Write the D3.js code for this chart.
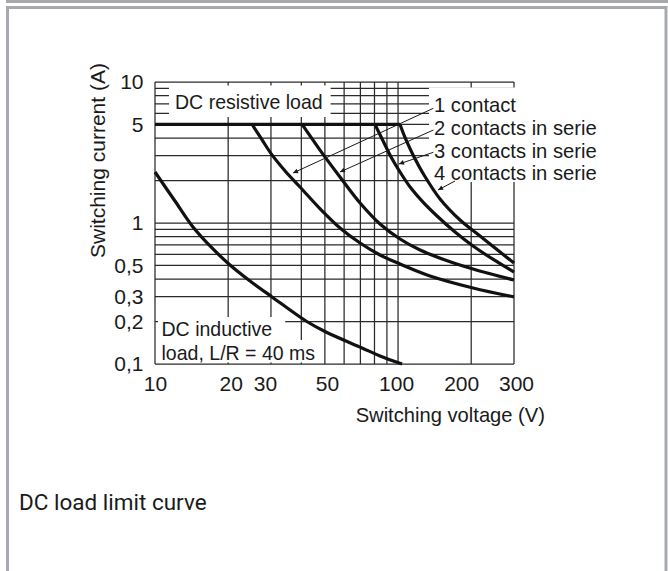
<!DOCTYPE html>
<html><head><meta charset="utf-8">
<script src="https://cdn.jsdelivr.net/npm/d3@7"></script>
<style>
html,body{margin:0;padding:0;background:#fff;}
svg{display:block;}
text{font-family:"Liberation Sans",Arial,sans-serif;fill:#1a1a1a;}
text.cap{font-family:Roboto,"Liberation Sans",sans-serif;}
</style></head><body>
<svg id="c" width="668" height="571"></svg>
<script>
// ---- data ----
const xTicks = [10, 20, 30, 50, 100, 200, 300];
const yTicks = [10, 5, 1, 0.5, 0.3, 0.2, 0.1];
const xGridValues = [10, 20, 30, 40, 50, 60, 70, 80, 90, 100, 200, 300];
const yGridValues = [10, 9, 8, 7, 6, 5, 4, 3, 2, 1, 0.9, 0.8, 0.7, 0.6, 0.5, 0.4, 0.3, 0.2, 0.1];
const resistiveLimit = [[10, 5], [101.9, 5]];
const oneContact = [[25.1,5],[27.6,3.88],[30.3,3.04],[34.3,2.34],[39.5,1.80],[47.8,1.26],[57.7,0.922],[69.8,0.721],[84.3,0.593],[101.9,0.512],[135.4,0.421],[203.5,0.346],[300,0.299]];
const twoContacts = [[40.3,5],[47.75,3.29],[57.7,2.12],[69.8,1.386],[84.3,0.984],[101.9,0.770],[123.2,0.643],[156.1,0.547],[203.5,0.472],[300,0.394]];
const threeContacts = [[80.4,5],[86.8,3.82],[93.6,2.94],[101.9,2.30],[112.1,1.80],[125.6,1.43],[144.7,1.121],[171.6,0.863],[203.5,0.687],[248.4,0.547],[300,0.449]];
const fourContacts = [[101.9,5],[107.9,3.88],[116.4,2.94],[127.9,2.19],[148.9,1.48],[179.9,1.05],[217.5,0.809],[262.9,0.623],[300,0.520]];
const inductive = [[10,2.3],[12.08,1.432],[14.33,0.937],[17.16,0.665],[20.35,0.504],[24.6,0.388],[30.3,0.299],[41.8,0.2018],[50.5,0.1686],[71.1,0.130],[84.3,0.114],[103.9,0.1]];
const seriesLabels = ["1 contact", "2 contacts in serie", "3 contacts in serie", "4 contacts in serie"];
const leaders = [
  {from: [139.7, 6.51], to: [36.98, 2.263]},
  {from: [139.7, 4.566], to: [57.7, 2.30]},
  {from: [139.7, 3.172], to: [100.9, 2.62]},
  {from: [171.6, 1.986], to: [146.1, 1.714]}
];
const resistiveText = "DC resistive load";
const inductiveText = ["DC inductive", "load, L/R = 40 ms"];
const xTitle = "Switching voltage (V)";
const yTitle = "Switching current (A)";
const caption = "DC load limit curve";

// ---- drawing ----
const svg = d3.select("#c");
const x = d3.scaleLog().domain([10, 300]).range([155, 514]);
const y = d3.scaleLog().domain([0.1, 10]).range([364, 82]);
const FS = 21;

function condense(sel, f) {
  sel.each(function() {
    const L = this.getComputedTextLength();
    d3.select(this).attr("textLength", L * f).attr("lengthAdjust", "spacingAndGlyphs");
  });
}

// page frame
svg.append("rect").attr("x", 6).attr("y", 0).attr("width", 662).attr("height", 3).attr("fill", "#a8a9ad");
svg.append("rect").attr("x", 7.5).attr("y", 7.5).attr("width", 658.5).attr("height", 600)
  .attr("fill", "none").attr("stroke", "#a8a9ae").attr("stroke-width", 3);

const defs = svg.append("defs");
defs.append("marker").attr("id", "ah").attr("viewBox", "0 0 10 10").attr("refX", 10).attr("refY", 5)
  .attr("markerWidth", 9).attr("markerHeight", 5).attr("markerUnits", "userSpaceOnUse").attr("orient", "auto")
  .append("path").attr("d", "M0,0L10,5L0,10z").attr("fill", "#1a1a1a");

// grid
const grid = svg.append("g").attr("stroke", "#2a2a2a").attr("stroke-width", 1.25);
grid.selectAll("line.v").data(xGridValues).join("line").attr("class", "v")
  .attr("x1", d => x(d)).attr("x2", d => x(d)).attr("y1", y(10)).attr("y2", y(0.1));
grid.selectAll("line.h").data(yGridValues).join("line").attr("class", "h")
  .attr("y1", d => y(d)).attr("y2", d => y(d)).attr("x1", x(10)).attr("x2", x(300));

// labels with white backgrounds
const ann = svg.append("g").attr("font-size", FS);
const resT = ann.append("text").attr("x", 175).attr("y", 109).text(resistiveText);
condense(resT, 0.93);

const legT = ann.append("text").attr("font-size", 20.2);
const legSpans = legT.selectAll("tspan").data(seriesLabels).join("tspan")
  .attr("x", 434).attr("y", (d, i) => 112.3 + i * 22.6).text(d => d);

const indTxt = ann.append("text");
const indSpans = indTxt.selectAll("tspan").data(inductiveText).join("tspan")
  .attr("x", 161.5).attr("y", (d, i) => 336 + i * 23.5).text(d => d);
condense(indSpans, 0.93);

function bg(x0, y0, x1, y1) {
  svg.insert("rect", function(){ return ann.node(); })
    .attr("x", x0).attr("y", y0).attr("width", x1 - x0).attr("height", y1 - y0).attr("fill", "#fff");
}
let b = resT.node().getBBox();
bg(b.x - 6, 85.5, b.x + b.width + 8, 117);
b = legT.node().getBBox();
bg(b.x - 5, 87.5, 602, 182);
indSpans.each(function(d, i) {
  const w = this.getComputedTextLength();
  const x0 = 161.5;
  if (i === 0) bg(x0 - 3.5, 317, x0 + w + 13, 340);
  else bg(x0 - 3.5, 340, x0 + w + 3, 362.5);
});

// curves
const line = d3.line().x(d => x(d[0])).y(d => y(d[1])).curve(d3.curveCatmullRom.alpha(0.5));
const curves = svg.append("g").attr("fill", "none").attr("stroke", "#111").attr("stroke-width", 3.2)
  .attr("stroke-linejoin", "round");
[resistiveLimit, oneContact, twoContacts, threeContacts, fourContacts, inductive].forEach(s => {
  curves.append("path").attr("d", line(s));
});

// leader arrows
svg.append("g").selectAll("line").data(leaders).join("line")
  .attr("x1", d => x(d.from[0])).attr("y1", d => y(d.from[1]))
  .attr("x2", d => x(d.to[0])).attr("y2", d => y(d.to[1]))
  .attr("stroke", "#1a1a1a").attr("stroke-width", 1).attr("marker-end", "url(#ah)");

// axes (labels only)
const nudge = {20: 2.5, 30: -6, 200: -10, 50: 2, 300: 2, 100: -2};
const gx = svg.append("g").attr("transform", `translate(0,${y(0.1)})`)
  .call(d3.axisBottom(x).tickValues(xTicks).tickSize(0).tickPadding(12).tickFormat(d3.format("d")));
gx.select(".domain").remove();
gx.attr("font-size", FS).attr("font-family", null);
gx.selectAll(".tick text").attr("dx", d => nudge[d] || 0).attr("fill", "#1a1a1a");

const gy = svg.append("g").attr("transform", `translate(${x(10)},0)`)
  .call(d3.axisLeft(y).tickValues(yTicks).tickSize(0).tickPadding(11.5)
    .tickFormat(d => String(d).replace(".", ",")));
gy.select(".domain").remove();
gy.attr("font-size", FS).attr("font-family", null);
gy.selectAll(".tick text").attr("fill", "#1a1a1a");

// titles
const xt = svg.append("text").attr("x", 545).attr("y", 422).attr("text-anchor", "end").attr("font-size", FS).text(xTitle);
condense(xt, 0.96);
const yt = svg.append("text").attr("transform", "translate(105,258) rotate(-90)").attr("font-size", FS).text(yTitle);

// caption
svg.append("text").attr("class", "cap").attr("x", 19).attr("y", 510).attr("font-size", 22.5).text(caption);
</script>
</body></html>
